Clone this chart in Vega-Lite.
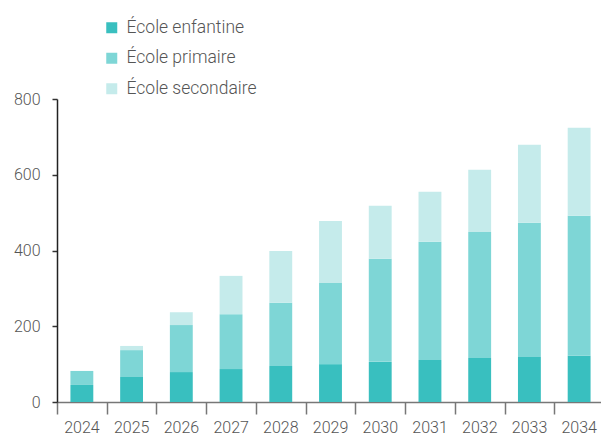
{
  "$schema": "https://vega.github.io/schema/vega-lite/v6.json",
  "width": 547,
  "height": 303,
  "autosize": "none",
  "padding": {"left": 57, "top": 99, "right": 0, "bottom": 32},
  "config": {"view": {"stroke": null}, "font": "Roboto"},
  "data": {
    "values": [
      {"year": "2024", "type": "École enfantine", "o": 1, "value": 45},
      {"year": "2024", "type": "École primaire", "o": 2, "value": 37},
      {"year": "2024", "type": "École secondaire", "o": 3, "value": 0},
      {"year": "2025", "type": "École enfantine", "o": 1, "value": 66},
      {"year": "2025", "type": "École primaire", "o": 2, "value": 71},
      {"year": "2025", "type": "École secondaire", "o": 3, "value": 11},
      {"year": "2026", "type": "École enfantine", "o": 1, "value": 79},
      {"year": "2026", "type": "École primaire", "o": 2, "value": 124},
      {"year": "2026", "type": "École secondaire", "o": 3, "value": 34},
      {"year": "2027", "type": "École enfantine", "o": 1, "value": 87},
      {"year": "2027", "type": "École primaire", "o": 2, "value": 145},
      {"year": "2027", "type": "École secondaire", "o": 3, "value": 101},
      {"year": "2028", "type": "École enfantine", "o": 1, "value": 95},
      {"year": "2028", "type": "École primaire", "o": 2, "value": 167},
      {"year": "2028", "type": "École secondaire", "o": 3, "value": 137},
      {"year": "2029", "type": "École enfantine", "o": 1, "value": 100},
      {"year": "2029", "type": "École primaire", "o": 2, "value": 214},
      {"year": "2029", "type": "École secondaire", "o": 3, "value": 164},
      {"year": "2030", "type": "École enfantine", "o": 1, "value": 106},
      {"year": "2030", "type": "École primaire", "o": 2, "value": 272},
      {"year": "2030", "type": "École secondaire", "o": 3, "value": 140},
      {"year": "2031", "type": "École enfantine", "o": 1, "value": 111},
      {"year": "2031", "type": "École primaire", "o": 2, "value": 312},
      {"year": "2031", "type": "École secondaire", "o": 3, "value": 132},
      {"year": "2032", "type": "École enfantine", "o": 1, "value": 116},
      {"year": "2032", "type": "École primaire", "o": 2, "value": 333},
      {"year": "2032", "type": "École secondaire", "o": 3, "value": 164},
      {"year": "2033", "type": "École enfantine", "o": 1, "value": 119},
      {"year": "2033", "type": "École primaire", "o": 2, "value": 354},
      {"year": "2033", "type": "École secondaire", "o": 3, "value": 206},
      {"year": "2034", "type": "École enfantine", "o": 1, "value": 122},
      {"year": "2034", "type": "École primaire", "o": 2, "value": 370},
      {"year": "2034", "type": "École secondaire", "o": 3, "value": 232}
    ]
  },
  "mark": {"type": "bar"},
  "encoding": {
    "x": {
      "field": "year",
      "type": "ordinal",
      "scale": {"paddingInner": 0.54, "paddingOuter": 0.27},
      "axis": {
        "title": null,
        "labelAngle": 0,
        "labelFontSize": 16,
        "labelFontWeight": 300,
        "labelColor": "#555555",
        "labelPadding": 5,
        "bandPosition": 0,
        "tickExtra": false,
        "tickOffset": -13.4,
        "labelOffset": 13,
        "tickSize": 12,
        "tickColor": "#777777",
        "tickWidth": 1.5,
        "domainColor": "#777777",
        "domainWidth": 1.5,
        "grid": false
      }
    },
    "y": {
      "field": "value",
      "type": "quantitative",
      "stack": "zero",
      "scale": {"domain": [0, 800], "nice": false},
      "axis": {
        "title": null,
        "values": [0, 200, 400, 600, 800],
        "grid": false,
        "labelFontSize": 16,
        "labelFontWeight": 300,
        "labelColor": "#555555",
        "labelPadding": 12,
        "tickSize": 5,
        "tickColor": "#333333",
        "tickWidth": 1.5,
        "domainColor": "#222222",
        "domainWidth": 1.5,
        "zindex": 2
      }
    },
    "color": {
      "field": "type",
      "type": "nominal",
      "scale": {
        "domain": ["École enfantine", "École primaire", "École secondaire"],
        "range": ["#39bfbf", "#7ed6d6", "#c5ebeb"]
      },
      "legend": {
        "title": null,
        "orient": "none",
        "legendX": 46,
        "legendY": -80,
        "symbolType": "square",
        "symbolSize": 121,
        "symbolStrokeWidth": 0,
        "labelFontSize": 17.5,
        "labelFontWeight": 300,
        "labelColor": "#555555",
        "labelOffset": 6,
        "rowPadding": 11.5
      }
    },
    "order": {"field": "o", "type": "quantitative"}
  }
}
